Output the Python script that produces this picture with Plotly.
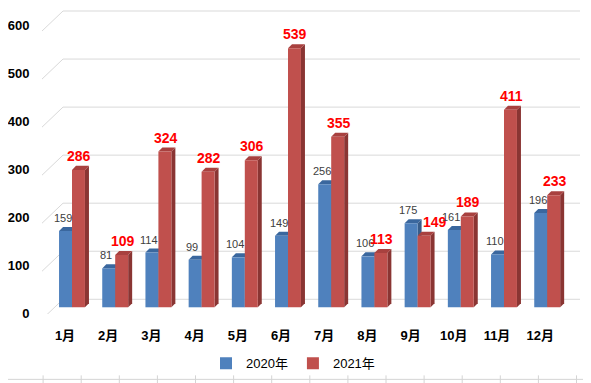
import plotly.graph_objects as go

months = ["1月", "2月", "3月", "4月", "5月", "6月", "7月", "8月", "9月", "10月", "11月", "12月"]
s2020 = [159, 81, 114, 99, 104, 149, 256, 106, 175, 161, 110, 196]
s2021 = [286, 109, 324, 282, 306, 539, 355, 113, 149, 189, 411, 233]
yticks = [0, 100, 200, 300, 400, 500, 600]
names = ["2020年", "2021年"]

# the page body has an 8px margin, so the figure is laid out in page pixels minus OFF
OFF = 8
PAGE_W, PAGE_H = 591, 383
W, H = PAGE_W - OFF, PAGE_H - OFF

PL, PR, PT, PB = 42, 585, 8, 313.7     # plot area in page px
ZERO = 307                             # page px of bar baseline
KY = 0.48                              # px per value unit
KX = 43.2                              # px per category
L, R, T, B = PL - OFF, W - (PR - OFF), PT - OFF, H - (PB - OFF)

X0 = -(72 - PL) / KX
XR = [X0, X0 + (PR - PL) / KX]
YR = [-(PB - ZERO) / KY, (ZERO - PT) / KY]

FRONT = -6 / KY      # value offset of front edge of side wall
BACK = 8 / KY        # value offset of back wall
DX = 4 / KX
DY = 4 / KY
BW = 0.30

blue, blue_top, blue_side = "#4F81BD", "#3A679E", "#385D8A"
red, red_top, red_side = "#C0504D", "#A8413F", "#8A3533"
FONT = "Liberation Sans, Noto Sans CJK SC, sans-serif"

xs = list(range(len(months)))
fig = go.Figure()
fig.add_trace(go.Bar(x=xs, y=s2020, width=BW, offset=-BW, name=names[0],
                     marker=dict(color=blue, line=dict(width=0))))
fig.add_trace(go.Bar(x=xs, y=s2021, width=BW, offset=0, name=names[1],
                     marker=dict(color=red, line=dict(width=0))))

shapes = []
xb = X0 + 21 / KX
xe = X0 + (580 - PL) / KX
for v in yticks:
    shapes.append(dict(type="line", xref="x", yref="y", x0=X0, x1=xb,
                       y0=v + FRONT - 6 / KY, y1=v + BACK,
                       line=dict(color="#D9D9D9", width=1), layer="below"))
    shapes.append(dict(type="line", xref="x", yref="y", x0=xb, x1=xe,
                       y0=v + BACK, y1=v + BACK,
                       line=dict(color="#D9D9D9", width=1), layer="below"))

def faces(x0, x1, v, top, side):
    return [
        dict(type="path", xref="x", yref="y", layer="between",
             path=f"M{x1},0 L{x1},{v} L{x1+DX},{v+DY} L{x1+DX},{DY} Z",
             fillcolor=side, line=dict(width=0)),
        dict(type="path", xref="x", yref="y", layer="between",
             path=f"M{x0},{v} L{x1},{v} L{x1+DX},{v+DY} L{x0+DX},{v+DY} Z",
             fillcolor=top, line=dict(width=0)),
    ]

for i in xs:
    shapes += faces(i - BW, i, s2020[i], blue_top, blue_side)
for i in xs:
    shapes += faces(i, i + BW, s2021[i], red_top, red_side)

def px2paper_x(p):
    return (p - PL) / (PR - PL)

def px2paper_y(p):
    return (PB - p) / (PB - PT)

# spreadsheet cell borders below the chart
shapes.append(dict(type="line", xref="paper", yref="paper",
                   x0=px2paper_x(OFF), x1=px2paper_x(PAGE_W), y0=px2paper_y(379), y1=px2paper_y(379),
                   line=dict(color="#D4D4D4", width=1)))
k = 1
while 5 + 38.1 * k < PAGE_W:
    p = 5 + 38.1 * k
    shapes.append(dict(type="line", xref="paper", yref="paper",
                       x0=px2paper_x(p), x1=px2paper_x(p), y0=px2paper_y(375), y1=px2paper_y(383),
                       line=dict(color="#D4D4D4", width=1)))
    k += 1

ann = []
for i in xs:
    ann.append(dict(x=i - BW / 2, y=s2020[i], xref="x", yref="y", text=str(s2020[i]),
                    showarrow=False, yshift=13, xshift=-3,
                    font=dict(family=FONT, size=11, color="#404040")))
    xsft = 11 if s2020[i] > s2021[i] else 1
    ann.append(dict(x=i + BW / 2, y=s2021[i], xref="x", yref="y", text=f"<b>{s2021[i]}</b>",
                    showarrow=False, yshift=14, xshift=xsft,
                    font=dict(family=FONT, size=14, color="#FF0000")))

fig.update_layout(
    width=W, height=H, margin=dict(l=L, r=R, t=T, b=B, pad=0, autoexpand=False),
    paper_bgcolor="white", plot_bgcolor="white",
    showlegend=True, barmode="overlay",
    shapes=shapes, annotations=ann,
    legend=dict(orientation="h", x=px2paper_x(293), xanchor="center",
                y=px2paper_y(363), yanchor="middle",
                font=dict(family=FONT, size=13, color="#000000"),
                itemwidth=30, tracegroupgap=0, bgcolor="rgba(0,0,0,0)"),
    font=dict(family=FONT),
)
fig.update_xaxes(range=XR, tickvals=[i - 7 / KX for i in xs], ticktext=[f"<b>{m}</b>" for m in months],
                 showgrid=False, zeroline=False, showline=False, automargin=False,
                 ticks="outside", ticklen=9, tickcolor="rgba(0,0,0,0)",
                 tickfont=dict(family=FONT, size=13, color="#000000"))
fig.update_yaxes(range=YR, tickvals=[v + FRONT for v in yticks], ticktext=[f"<b>{v}</b>" for v in yticks],
                 showgrid=False, zeroline=False, showline=False, automargin=False,
                 ticks="outside", ticklen=9, tickcolor="rgba(0,0,0,0)",
                 tickfont=dict(family=FONT, size=13, color="#000000"))

fig.write_html("out.html")
